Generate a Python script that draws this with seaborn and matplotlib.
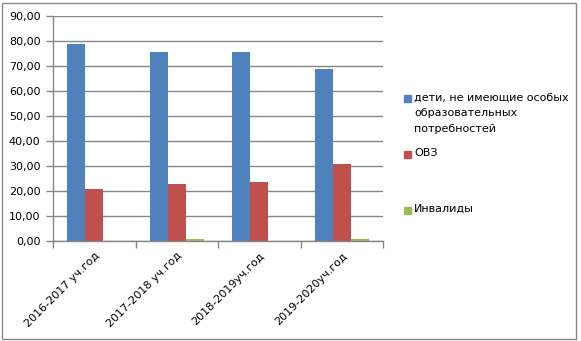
import matplotlib
matplotlib.use("Agg")
import matplotlib.pyplot as plt
import matplotlib.patches as mpatches
import seaborn as sns
import pandas as pd
import numpy as np

categories = ["2016-2017 уч.год", "2017-2018 уч.год", "2018-2019уч.год", "2019-2020уч.год"]
series = ["дети, не имеющие особых\nобразовательных\nпотребностей", "ОВЗ", "Инвалиды"]
vals_normal = [79.0, 75.7, 75.7, 69.0]
vals_ovz = [21.0, 23.0, 23.8, 31.0]
vals_inv = [0.0, 0.8, 0.0, 0.8]
colors = ["#4F81BD", "#C0504D", "#9BBB59"]
yticks = [0, 10, 20, 30, 40, 50, 60, 70, 80, 90]

rows = []
for s, vals in zip(series, [vals_normal, vals_ovz, vals_inv]):
    for c, v in zip(categories, vals):
        rows.append({"cat": c, "series": s, "value": v})
df = pd.DataFrame(rows)

sns.set_style("white")
plt.rcParams["font.family"] = ["DejaVu Sans"]
plt.rcParams["text.color"] = "black"
plt.rcParams["xtick.labelcolor"] = "black"
plt.rcParams["ytick.labelcolor"] = "black"

W, H = 581, 341
fig = plt.figure(figsize=(W / 100, H / 100), dpi=100)
ax = fig.add_axes([53 / W, 1 - 241 / H, (383 - 53) / W, (241 - 16) / H])

sns.barplot(data=df, x="cat", y="value", hue="series", palette=colors,
            order=categories, hue_order=series, width=0.66, ax=ax,
            legend=False, saturation=1, edgecolor="none", linewidth=0)

grid_c = "#868686"
ax.set_ylim(0, 90)
ax.set_xlim(-0.5, len(categories) - 0.5)
ax.set_yticks(yticks)
ax.set_yticklabels([f"{t:.2f}".replace(".", ",") for t in yticks], fontsize=8, color="black")
ax.yaxis.grid(True, color=grid_c, linewidth=1)
ax.set_axisbelow(True)
ax.tick_params(axis="y", length=5, width=1, color=grid_c, pad=4, left=True)

ax.set_xticks(range(len(categories)))
ax.set_xticklabels(categories, rotation=45, ha="right", rotation_mode="anchor",
                   fontsize=8, color="black")
ax.tick_params(axis="x", which="major", length=0, pad=7)
ax.set_xticks(np.arange(-0.5, len(categories), 1.0), minor=True)
ax.tick_params(axis="x", which="minor", length=5, width=1, color=grid_c, bottom=True)

ax.set_xlabel("")
ax.set_ylabel("")
for side in ["top", "right"]:
    ax.spines[side].set_visible(False)
for side in ["left", "bottom"]:
    ax.spines[side].set_color(grid_c)
    ax.spines[side].set_linewidth(1)

# legend (manual, Excel-like)
leg_y = [99, 154, 210]
for s, c, y in zip(series, colors, leg_y):
    fig.add_artist(mpatches.Rectangle((404 / W, 1 - (y + 3.5) / H), 7 / W, 7 / H,
                                      transform=fig.transFigure, color=c))
    fig.text(414 / W, 1 - (y - 6.5) / H, s, fontsize=8, va="top", ha="left",
             linespacing=1.75, color="black", transform=fig.transFigure)

# outer border
fig.add_artist(mpatches.Rectangle((1.5 / W, 2.5 / H), (576 - 1.5) / W, (338 - 2.5) / H,
                                  transform=fig.transFigure, fill=False,
                                  edgecolor=grid_c, linewidth=1))

fig.savefig("out.png", dpi=100)
